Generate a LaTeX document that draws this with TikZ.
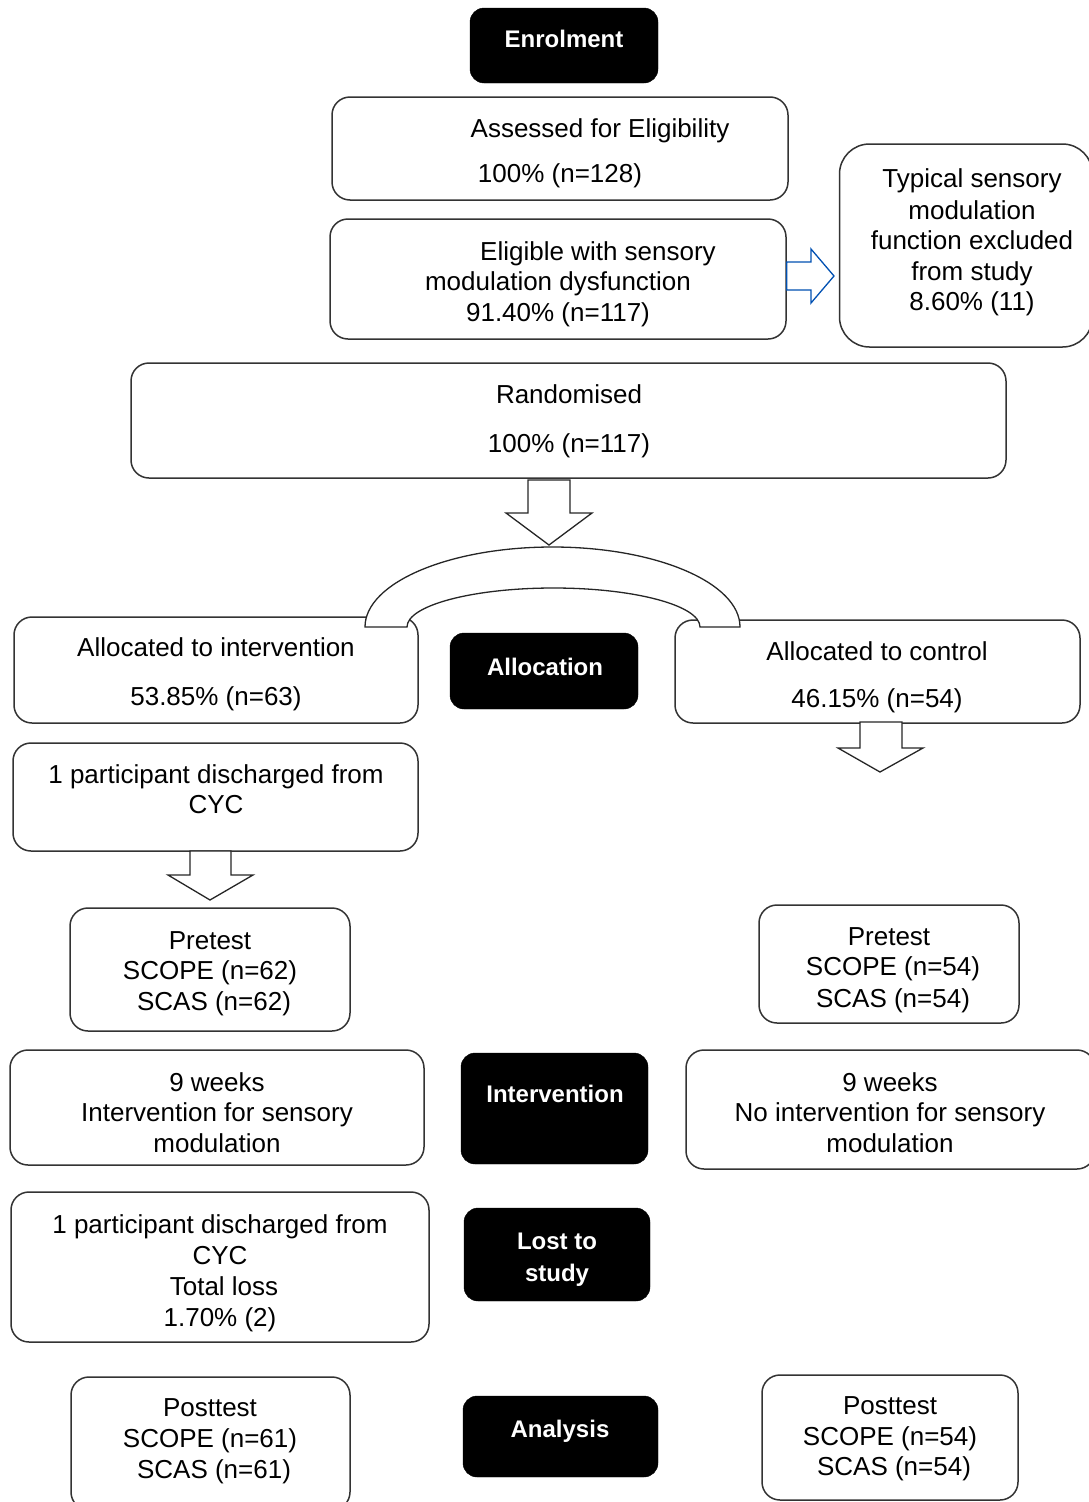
\documentclass[tikz,border=0pt]{standalone}
\usepackage{fontspec}
\setmainfont{Liberation Sans}
\begin{document}
\begin{tikzpicture}[x=1pt,y=-1pt,
  box/.style={draw=black!80, line width=1.5pt, rounded corners=18pt, fill=white, inner sep=0pt},
  dark/.style={fill=black, draw=black, rounded corners=14pt, inner sep=0pt},
  txt/.style={font=\fontsize{26}{30}\selectfont, inner sep=0pt, anchor=base},
  btxt/.style={font=\fontsize{24}{32}\selectfont\bfseries, text=white, inner sep=0pt, anchor=base},
  blk/.style={draw=black!85, line width=1.3pt, fill=white, line join=miter},
  blueblk/.style={draw=blue!55!cyan!70!black, line width=1.3pt, fill=white, line join=miter}
]
\useasboundingbox (0,0) rectangle (1089,1502);

% ---- boxes ----
\node[dark, minimum width=188pt, minimum height=75pt] (enrol) at (564,45.5) {};
\node[box, minimum width=456pt, minimum height=103pt] (assess) at (560,148.5) {};
\node[box, minimum width=456pt, minimum height=120pt] (elig) at (558,279) {};
\node[box, rounded corners=30pt, minimum width=253pt, minimum height=203pt] (typical) at (966,245.5) {};
\node[box, minimum width=875pt, minimum height=115pt] (rand) at (568.5,420.5) {};
\node[box, minimum width=404pt, minimum height=106pt] (allocI) at (216,670) {};
\node[dark, minimum width=188pt, minimum height=76pt] (alloc) at (544,671) {};
\node[box, minimum width=405pt, minimum height=103pt] (allocC) at (877.5,671.5) {};
\node[box, minimum width=405pt, minimum height=108pt] (discA) at (215.5,797) {};
\node[box, minimum width=280pt, minimum height=123pt] (preL) at (210,969.5) {};
\node[box, minimum width=260pt, minimum height=118pt] (preR) at (889,964) {};
\node[box, minimum width=414pt, minimum height=115pt] (weekL) at (217,1107.5) {};
\node[dark, minimum width=187pt, minimum height=111pt] (interv) at (554.5,1108.5) {};
\node[box, minimum width=409pt, minimum height=119pt] (weekR) at (890.5,1109.5) {};
\node[box, minimum width=418pt, minimum height=150pt] (discB) at (220,1267) {};
\node[dark, minimum width=186pt, minimum height=93pt] (lost) at (557,1254.5) {};
\node[box, minimum width=279pt, minimum height=133pt] (postL) at (210.5,1443.5) {};
\node[dark, minimum width=195pt, minimum height=81pt] (analysis) at (560.5,1436.5) {};
\node[box, minimum width=256pt, minimum height=125pt] (postR) at (890,1437.5) {};

% ---- block arrows ----
\draw[blueblk] (elig.east |- 0,262) -- (811,262) -- (811,249) -- (834,276)
  -- (811,303) -- (811,290) -- (elig.east |- 0,290) -- cycle;
\draw[blk] (528,480) -- (570,480) -- (570,513) -- (592,513) -- (549,545)
  -- (506,513) -- (528,513) -- cycle;
% curved split arrow over the allocation row
\draw[blk] (365,627) arc[start angle=180, end angle=0, x radius=187.5pt, y radius=80pt]
  -- (700,627) arc[start angle=0, end angle=180, x radius=146.5pt, y radius=39pt] -- cycle;
\draw[blk] (860,722) -- (902,722) -- (902,748) -- (923,748) -- (880,772)
  -- (838,748) -- (860,748) -- cycle;
\draw[blk] (190,851) -- (231,851) -- (231,875) -- (253,875) -- (210,900)
  -- (168,875) -- (190,875) -- cycle;

% ---- texts ----
\node[btxt] at (564,47) {Enrolment};
\node[txt] at (600,137) {Assessed for Eligibility};
\node[txt] at (560,182) {100\% (n=128)};
\node[txt] at (598,260) {Eligible with sensory};
\node[txt] at (558,290) {modulation dysfunction};
\node[txt] at (558,321) {91.40\% (n=117)};
\node[txt] at (972,187) {Typical sensory};
\node[txt] at (972,219) {modulation};
\node[txt] at (972,249) {function excluded};
\node[txt] at (972,280) {from study};
\node[txt] at (972,310) {8.60\% (11)};
\node[txt] at (569,403) {Randomised};
\node[txt] at (569,452) {100\% (n=117)};
\node[txt] at (216,656) {Allocated to intervention};
\node[txt] at (216,705) {53.85\% (n=63)};
\node[btxt] at (545,675) {Allocation};
\node[txt] at (877,660) {Allocated to control};
\node[txt] at (877,707) {46.15\% (n=54)};
\node[txt] at (216,783) {1 participant discharged from};
\node[txt] at (216,813) {CYC};
\node[txt] at (210,949) {Pretest};
\node[txt] at (210,979) {SCOPE (n=62)};
\node[txt] at (214,1010) {SCAS (n=62)};
\node[txt] at (889,945) {Pretest};
\node[txt] at (893,975) {SCOPE (n=54)};
\node[txt] at (893,1007) {SCAS (n=54)};
\node[txt] at (217,1091) {9 weeks};
\node[txt] at (217,1121) {Intervention for sensory};
\node[txt] at (217,1152) {modulation};
\node[btxt] at (555,1102) {Intervention};
\node[txt] at (890,1091) {9 weeks};
\node[txt] at (890,1121) {No intervention for sensory};
\node[txt] at (890,1152) {modulation};
\node[txt] at (220,1233) {1 participant discharged from};
\node[txt] at (220,1264) {CYC};
\node[txt] at (224,1295) {Total loss};
\node[txt] at (220,1326) {1.70\% (2)};
\node[btxt] at (557,1249) {Lost to};
\node[btxt] at (557,1281) {study};
\node[txt] at (210,1416) {Posttest};
\node[txt] at (210,1447) {SCOPE (n=61)};
\node[txt] at (214,1478) {SCAS (n=61)};
\node[btxt] at (560,1437) {Analysis};
\node[txt] at (890,1414) {Posttest};
\node[txt] at (890,1445) {SCOPE (n=54)};
\node[txt] at (894,1475) {SCAS (n=54)};
\end{tikzpicture}
\end{document}
